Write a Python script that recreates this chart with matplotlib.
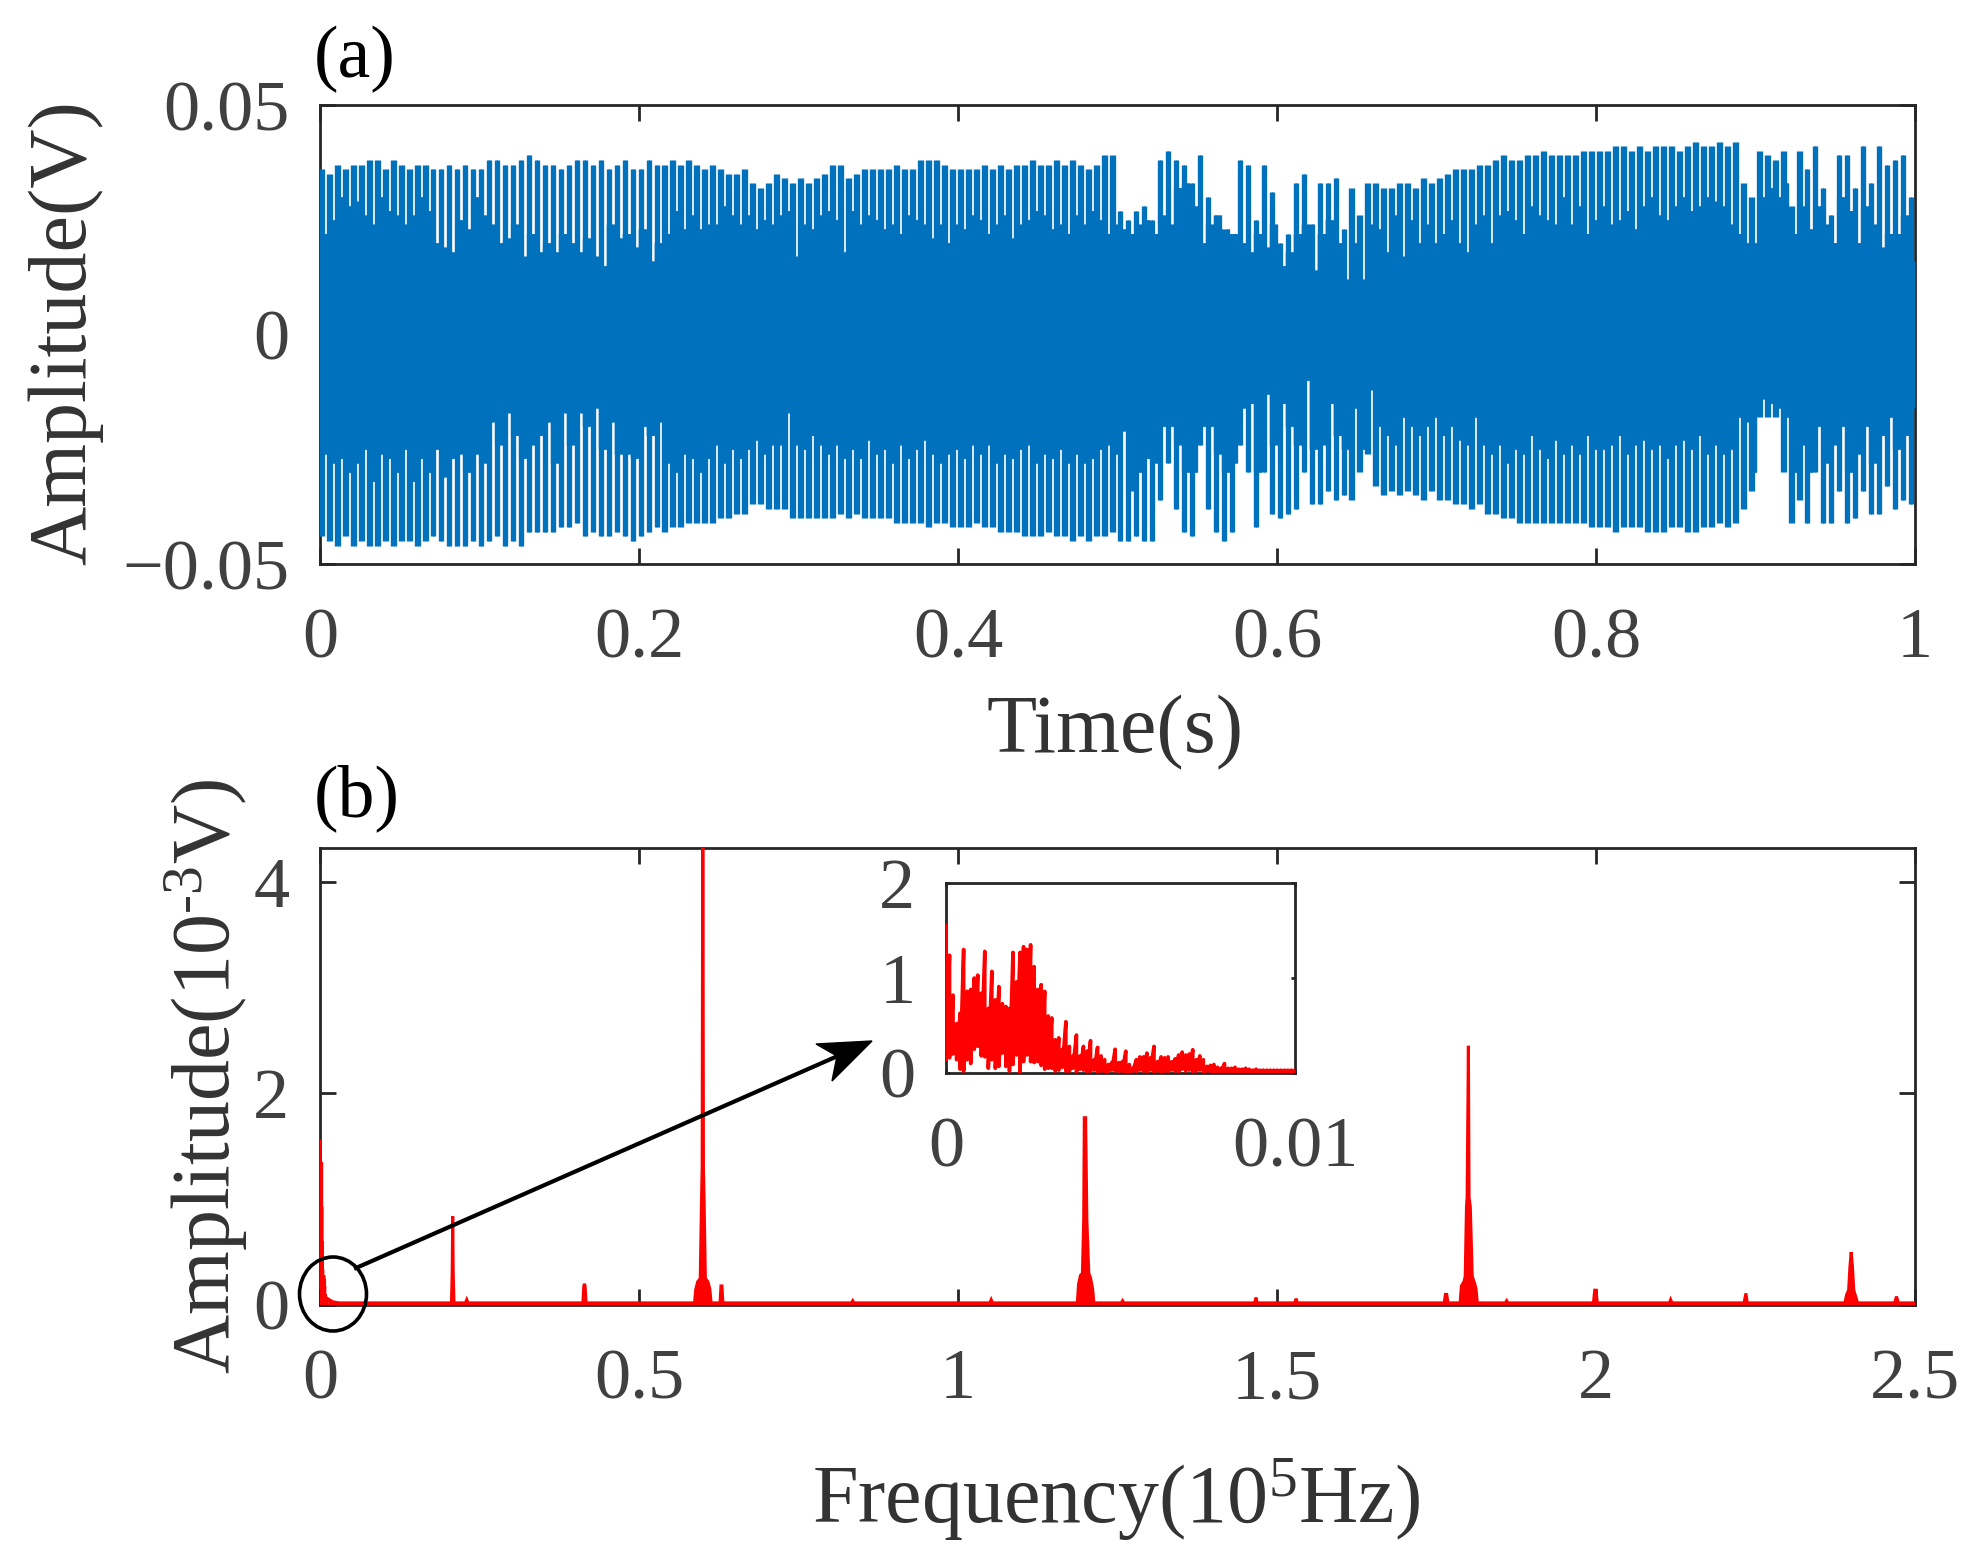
import numpy as np
import matplotlib
matplotlib.use("Agg")
import matplotlib.pyplot as plt
from matplotlib.patches import Ellipse, Polygon

plt.rcParams["font.family"] = ["Liberation Serif", "DejaVu Serif"]
plt.rcParams["mathtext.fontset"] = "custom"
plt.rcParams["mathtext.rm"] = "Liberation Serif"
plt.rcParams["mathtext.default"] = "rm"

# waveform envelope, in mV, 20 teeth per 0.1 s
top_peak = [36,35,37,36,37,37,38,38,36,38,37,36,37,37,36,36,37,36,37,36,
            36,38,38,37,37,38,39,38,37,37,36,37,38,38,37,38,36,37,38,36,
            36,38,37,37,38,37,38,37,36,37,36,35,35,36,33,32,33,35,34,33,
            34,33,34,35,37,37,34,35,36,36,36,36,37,36,36,38,38,38,37,36,
            36,36,36,37,36,37,36,37,37,38,37,37,38,37,38,37,36,37,39,39,
            27,25,27,28,25,38,40,38,37,33,39,30,26,22,22,38,37,25,37,31,
            20,22,33,35,24,33,33,34,23,32,26,33,33,32,32,33,33,32,34,33,
            34,35,36,36,36,37,37,38,39,38,38,39,39,40,39,39,39,39,40,40,
            40,40,41,41,40,41,40,41,41,41,40,41,42,41,41,42,41,42,33,30,
            40,39,38,40,28,40,36,41,32,26,39,39,32,41,33,41,37,38,39,30]
top_dip = [22,25,30,28,29,26,24,30,27,26,24,26,30,27,20,19,18,25,23,30,
           26,24,20,21,24,17,22,18,20,18,22,20,18,21,17,15,24,21,22,19,
           23,16,20,22,27,23,26,23,24,24,28,26,24,26,23,25,24,26,27,17,
           24,23,26,27,25,18,27,24,26,25,23,24,22,26,25,24,21,24,20,24,
           23,26,25,22,24,26,21,24,25,27,26,23,24,22,26,24,27,25,22,24,
           23,22,24,25,22,26,24,32,33,28,20,24,26,23,22,20,18,22,19,24,
           15,18,22,24,14,22,25,20,12,20,12,24,23,18,26,17,25,20,24,20,
           22,25,20,18,24,26,20,26,27,25,22,28,26,25,24,30,24,28,22,25,
           28,24,25,27,23,28,30,26,25,28,30,27,28,30,29,28,24,22,20,20,
           30,32,30,33,22,28,23,28,24,20,30,27,20,28,24,19,22,22,26,16]
bot_peak = [44,45,46,44,46,45,46,46,45,46,45,45,46,45,44,45,46,46,46,45,
            46,45,44,46,45,46,43,43,43,43,42,42,41,44,43,44,44,43,44,45,
            44,43,42,43,42,42,41,41,41,41,40,40,39,39,37,37,38,38,38,40,
            40,40,40,40,40,39,40,39,40,40,40,40,41,41,41,41,42,41,41,42,
            42,42,41,42,42,43,43,43,44,44,44,43,44,44,45,44,45,44,44,43,
            45,45,44,45,45,36,28,38,43,44,24,38,43,45,43,24,30,42,30,39,
            40,39,38,30,37,37,34,36,35,36,30,26,33,35,34,35,34,35,36,34,
            36,36,37,37,38,37,39,39,40,40,41,41,41,41,41,41,41,41,41,42,
            42,42,43,42,42,42,43,43,43,42,42,43,43,42,42,41,42,41,38,34,
            18,18,18,30,41,36,41,30,41,41,34,41,40,34,39,39,33,38,36,37]
bot_dip = [26,28,27,30,28,25,32,26,27,30,25,32,27,30,25,31,27,26,30,26,
           28,19,24,17,22,27,24,22,19,28,17,24,17,20,16,25,19,26,26,27,
           20,22,19,28,30,26,27,30,27,24,28,25,27,25,23,26,24,24,17,24,
           25,22,24,26,24,27,25,27,23,26,25,28,24,27,25,23,26,28,26,25,
           27,24,26,24,28,26,27,25,24,28,26,27,25,28,26,28,27,25,24,26,
           21,34,30,27,28,20,20,24,30,30,20,20,26,30,28,16,15,30,13,24,
           15,20,24,10,25,24,15,22,25,16,25,12,20,22,24,18,20,22,20,18,
           22,20,23,24,18,24,26,24,28,25,26,22,25,27,23,26,24,26,22,25,
           25,24,22,26,24,23,25,24,27,24,23,25,22,26,24,26,25,18,19,30,
           14,15,16,18,30,24,30,20,28,24,20,30,26,20,28,22,18,25,22,16]

# inset spectrum, upper and lower outline per 1e-4 (10^5 Hz), in 10^-3 V
inset_peak = [1.55,1.24,0.82,0.52,0.63,1.30,0.86,0.88,1.00,1.03,0.84,1.28,0.68,1.07,0.77,0.91,
              0.73,0.70,0.68,1.27,0.96,1.27,1.33,1.30,1.35,1.12,0.88,0.93,0.86,0.60,0.58,0.35,
              0.37,0.25,0.54,0.28,0.18,0.40,0.18,0.28,0.23,0.34,0.14,0.27,0.18,0.14,0.09,0.11,
              0.25,0.11,0.12,0.23,0.09,0.05,0.14,0.17,0.17,0.21,0.16,0.28,0.12,0.17,0.16,0.17,
              0.12,0.15,0.19,0.22,0.19,0.20,0.245,0.14,0.18,0.14,0.07,0.08,0.09,0.06,0.05,0.10,
              0.05,0.05,0.06,0.04,0.04,0.05,0.04,0.03,0.04,0.03,0.03,0.03,0.03,0.03,0.03,0.03,
              0.03,0.03,0.03,0.03]
inset_trough = [0.14,0.16,0.20,0.14,0.04,0.02,0.14,0.10,0.25,0.28,0.18,0.17,0.05,0.14,0.05,0.07,
                0.21,0.07,0.02,0.09,0.19,0.00,0.12,0.19,0.12,0.11,0.12,0.08,0.04,0.05,0.05,0.02,
                0.03,0.06,0.02,0.02,0.05,0.01,0.04,0.03,0.01,0.02,0.03,0.01,0.02,0.00,0.01,0.03,
                0.02,0.01,0.02,0.00,0.01,0.02,0.01,0.03,0.02,0.01,0.03,0.01,0.02,0.00,0.02,0.01,
                0.03,0.02,0.01,0.04,0.02,0.03,0.01,0.02,0.03,0.01,0.02,0.01,0.01,0.01,0.01,0.01,
                0.01,0.01,0.01,0.01,0.01,0.01,0.01,0.01,0.01,0.01,0.01,0.01,0.01,0.01,0.01,0.01,
                0.01,0.01,0.01,0.01]

# spectral lines of panel (b) past the inset range
line_freq = [0.012,0.02,0.03,0.206,0.2072,0.208,0.2088,0.21,0.228,0.23,0.232,0.412,0.4135,0.4145,0.4155,
             0.417,0.587,0.589,0.592,0.596,0.598,0.599,0.6,0.601,0.602,0.604,0.608,0.611,0.613,0.627,
             0.6285,0.63,0.6315,0.833,0.835,0.837,1.05,1.052,1.054,1.187,1.189,1.192,1.195,1.197,1.198,
             1.2,1.202,1.205,1.208,1.211,1.213,1.256,1.258,1.26,1.465,1.467,1.469,1.528,1.53,1.532,
             1.762,1.764,1.766,1.768,1.787,1.789,1.793,1.795,1.797,1.798,1.8,1.801,1.803,1.806,1.81,
             1.812,1.814,1.858,1.86,1.862,1.996,1.998,2.0,2.002,2.115,2.117,2.119,2.232,2.235,2.237,
             2.39,2.393,2.396,2.398,2.4,2.402,2.404,2.407,2.41,2.468,2.471,2.474,2.5]
line_amp = [0.06,0.03,0.02,0.02,0.30,0.84,0.30,0.02,0.02,0.05,0.02,0.02,0.18,0.20,0.18,
            0.02,0.02,0.15,0.22,0.25,1.00,1.30,5.00,1.30,1.00,0.25,0.22,0.15,0.02,0.02,
            0.18,0.18,0.02,0.02,0.04,0.02,0.02,0.05,0.02,0.02,0.20,0.28,0.30,0.80,1.77,
            1.77,0.80,0.30,0.25,0.15,0.02,0.02,0.04,0.02,0.02,0.07,0.02,0.02,0.06,0.02,
            0.02,0.10,0.10,0.02,0.02,0.18,0.22,0.27,0.93,1.02,2.45,1.02,0.93,0.27,0.20,
            0.15,0.02,0.02,0.04,0.02,0.02,0.14,0.14,0.02,0.02,0.05,0.02,0.02,0.11,0.02,
            0.02,0.10,0.14,0.36,0.50,0.36,0.14,0.08,0.02,0.02,0.08,0.02,0.02]

BLUE = "#0072BD"
TEXT = "#404040"
LABEL = "#333333"
EDGE = "#262626"
TICK_FS = 52
LABEL_FS = 59


def px_axes(fig, left, top, right, bottom):
    w, h = fig.get_size_inches() * fig.dpi
    return fig.add_axes([left / w, 1 - bottom / h, (right - left) / w, (bottom - top) / h])


def style(ax, ticklen, pad_x, pad_y):
    ax.tick_params(axis="both", direction="in", top=True, right=True, length=ticklen,
                   width=2.0, color=EDGE, labelcolor=TEXT, labelsize=TICK_FS)
    ax.tick_params(axis="x", pad=pad_x)
    ax.tick_params(axis="y", pad=pad_y)
    for s in ax.spines.values():
        s.set_linewidth(2.0)
        s.set_color(EDGE)


fig = plt.figure(figsize=(19.81, 15.61), dpi=100)
W, H = 1981, 1561

# (a) waveform: solid body up to the dips, then one stroke per column for the teeth
ax1 = px_axes(fig, 320, 105, 1915, 564)
upper = np.column_stack([top_peak, top_peak, top_dip]).ravel() * 1e-3
lower = -np.column_stack([bot_peak, bot_peak, bot_dip]).ravel() * 1e-3
body_up = np.column_stack([top_dip, top_dip, top_dip]).ravel() * 1e-3
body_lo = -np.column_stack([bot_dip, bot_dip, bot_dip]).ravel() * 1e-3
t = np.linspace(0, 1, len(upper))
ax1.fill_between(t, body_lo, body_up, step="mid", color=BLUE, lw=0, zorder=3)
ax1.vlines(t, lower, upper, color=BLUE, lw=2.4, capstyle="butt", zorder=3)
ax1.set_xlim(0, 1)
ax1.set_ylim(-0.05, 0.05)
ax1.set_xticks([0, 0.2, 0.4, 0.6, 0.8, 1])
ax1.set_xticklabels(["0", "0.2", "0.4", "0.6", "0.8", "1"])
ax1.set_yticks([-0.05, 0, 0.05])
ax1.set_yticklabels(["\u22120.05", "0", "0.05"])
style(ax1, 11.5, 31, 22)

# (b) spectrum
ax2 = px_axes(fig, 320, 848, 1915, 1305)
inset_f = np.linspace(0, 0.01, len(inset_peak))
inset_a = np.column_stack([inset_peak, inset_trough]).ravel()
inset_x = np.repeat(inset_f, 2)
ax2.fill_between(line_freq, 0, line_amp, color="red", lw=0, zorder=3)
ax2.plot(np.r_[inset_x, line_freq], np.r_[inset_a, line_amp], color="red", lw=2.2,
         solid_joinstyle="miter", zorder=3)
ax2.set_xlim(0, 2.5)
ax2.set_ylim(0, 4.32)
ax2.set_xticks([0, 0.5, 1, 1.5, 2, 2.5])
ax2.set_xticklabels(["0", "0.5", "1", "1.5", "2", "2.5"])
ax2.set_yticks([0, 2, 4])
style(ax2, 11.5, 31, 22)

# inset
ax3 = px_axes(fig, 946, 883, 1295, 1073)
ax3.plot(inset_x, inset_a, color="red", lw=2.6, zorder=3)
ax3.set_xlim(0, 0.01)
ax3.set_ylim(0, 2)
ax3.set_xticks([0, 0.01])
ax3.set_xticklabels(["0", "0.01"])
ax3.set_yticks([0, 1, 2])
style(ax3, 3, 31, 22)

# labels
fig.text(66 / W, 1 - 333 / H, "Amplitude(V)", rotation=90, ha="center", va="center", color=LABEL, fontsize=LABEL_FS)
fig.text(206 / W, 1 - 1076 / H, r"Amplitude(10$^{\text{-}3}$V)", rotation=90, ha="center", va="center", color=LABEL, fontsize=LABEL_FS)
fig.text(1115 / W, 1 - 733 / H, "Time(s)", ha="center", va="center", color=LABEL, fontsize=LABEL_FS)
fig.text(1116 / W, 1 - 1500 / H, r"Frequency(10$^{5}$Hz)", ha="center", va="center", color=LABEL, fontsize=LABEL_FS)
fig.text(314 / W, 1 - 59 / H, "(a)", ha="left", va="center", color="black", fontsize=53)
fig.text(314 / W, 1 - 798 / H, "(b)", ha="left", va="center", color="black", fontsize=53)

# circle and arrow pointing at the inset
fig.add_artist(Ellipse((333 / W, 1 - 1294 / H), 67 / W, 74 / H, transform=fig.transFigure,
                       fill=False, edgecolor="black", lw=2.6))
fig.add_artist(plt.Line2D([356 / W, 840 / W], [1 - 1268 / H, 1 - 1055 / H], transform=fig.transFigure,
                          color="black", lw=3.0))
head_px = [(872, 1041), (816, 1044), (837, 1056), (832, 1081)]
fig.add_artist(Polygon([(x / W, 1 - y / H) for x, y in head_px], closed=True, transform=fig.transFigure,
                       facecolor="black", edgecolor="black", lw=1))

fig.savefig("out.png", dpi=100)
